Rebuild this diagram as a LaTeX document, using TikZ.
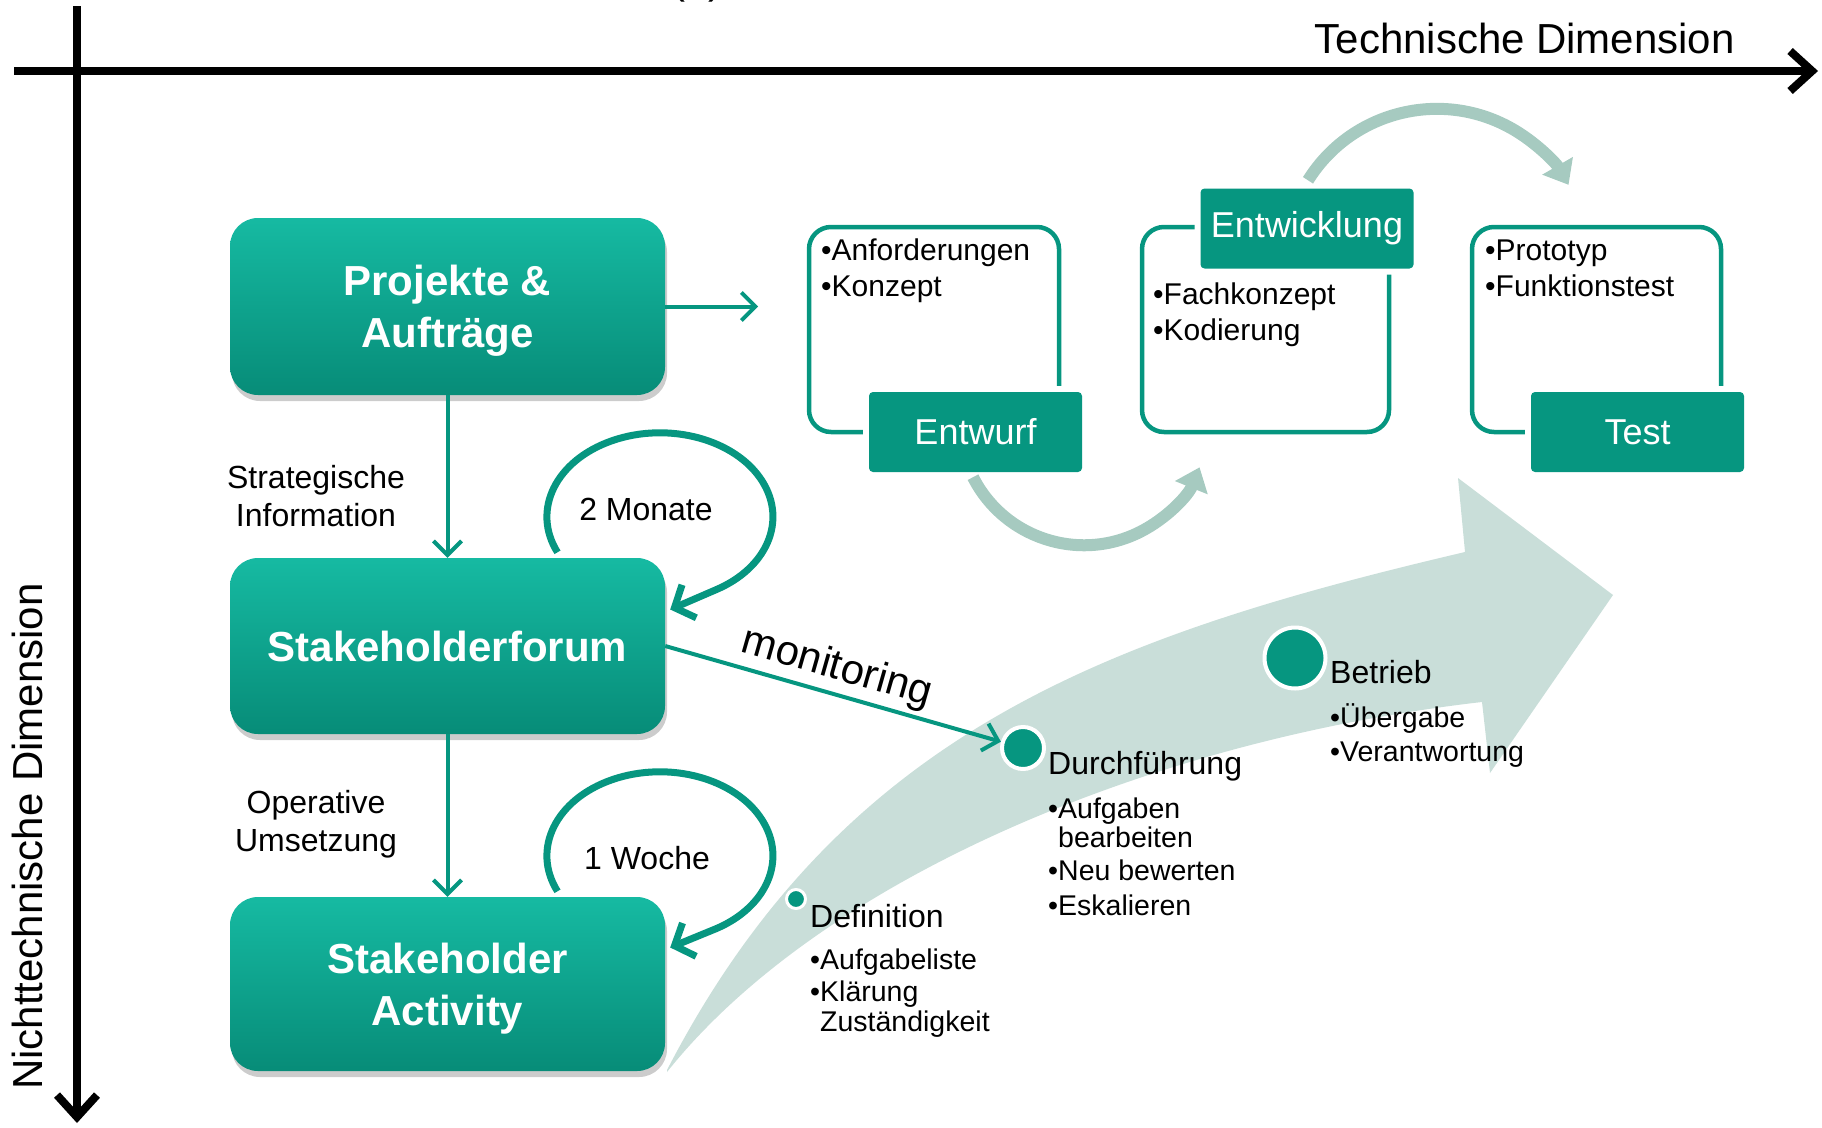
\documentclass[tikz,border=0pt]{standalone}
\usepackage{fontspec}
\setmainfont{Liberation Sans}
\usetikzlibrary{arrows.meta,shadows,calc}
\definecolor{teal1}{RGB}{6,150,128}
\definecolor{boxtop}{RGB}{22,186,162}
\definecolor{boxbot}{RGB}{7,140,120}
\definecolor{pale}{RGB}{201,222,217}
\definecolor{arcc}{RGB}{166,202,192}
\newcommand\boxline[1]{\smash{\raisebox{-15pt}{#1}}}
\begin{document}
\begin{tikzpicture}[x=1pt,y=1pt,
  mainbox/.style={rounded corners=28pt, top color=boxtop, bottom color=boxbot, draw=none,
    minimum width=435pt, text=white, font=\fontsize{42}{52}\selectfont\bfseries, align=center,
    drop shadow={shadow xshift=2pt, shadow yshift=-6pt, opacity=0.4}},
  phasebox/.style={preaction={draw=white,line width=12pt}, fill=teal1, rounded corners=4pt,
    minimum width=213pt, minimum height=80pt, inner sep=0pt, text=white, font=\fontsize{36}{40}\selectfont},
  outlinebox/.style={draw=teal1, line width=4.5pt, rounded corners=22pt, minimum height=205pt, inner sep=0pt},
  tealarrow/.style={draw=teal1, line width=4pt, -{Straight Barb[length=14pt,width=28pt]}},
  cycarrow/.style={draw=teal1, line width=7pt, -{Straight Barb[length=16pt,width=36pt]}},
  palearc/.style={draw=arcc, line width=12pt, -{Triangle[length=22pt,width=34pt]}},
  axisline/.style={draw=black, line width=8pt, -{Straight Barb[length=22pt,width=40pt]}},
  axislabel/.style={font=\fontsize{42}{42}\selectfont, inner sep=0pt},
  lbl/.style={font=\fontsize{32}{38}\selectfont, align=center},
  fitm/.style={font=\fontsize{30}{34}\selectfont, anchor=base west, inner sep=0pt},
  itm/.style={font=\fontsize{28.5}{34}\selectfont, anchor=base west, inner sep=0pt},
  headl/.style={font=\fontsize{32}{38}\selectfont, anchor=base west, inner sep=0pt},
  dot/.style={circle, fill=teal1, draw=white, inner sep=0pt}]
\useasboundingbox (0,0) rectangle (1822,-1127);

% cut-off title
\node[font=\fontsize{42}{42}\selectfont, anchor=base, inner sep=0pt] (cut) at (697,6) {(a)};

% big pale arrow
\fill[pale] (667,-1070) .. controls (842,-732) and (1107,-636) .. (1465,-552)
  -- (1458,-478) -- (1613,-595) -- (1490,-773) -- (1482,-702)
  .. controls (1150,-740) and (820,-880) .. (667,-1072) -- cycle;

% axes
\coordinate (xs) at (14,-71);
\coordinate (xe) at (1818,-71);
\coordinate (ys) at (77,-6);
\coordinate (ye) at (77,-1123);
\draw[axisline] (xs) -- (xe);
\draw[axisline] (ys) -- (ye);
\node[axislabel, anchor=base east] (tdim) at (1735,-53) {Technische Dimension};
\node[axislabel, anchor=base west, rotate=90] (ndim) at (42,-1090) {Nichttechnische Dimension};

% main boxes
\node[mainbox, minimum height=177pt] (pa) at (447.5,-306.5) {\boxline{Projekte \&}\\\boxline{Aufträge}};
\node[mainbox, minimum height=176pt] (sf) at (447.5,-646) {Stakeholderforum};
\node[mainbox, minimum height=174pt] (sa) at (447.5,-984) {\boxline{Stakeholder}\\\boxline{Activity}};

\draw[tealarrow] (pa) -- (sf);
\draw[tealarrow] (sf) -- (sa);
\coordinate (paout) at ($(pa.east)+(93,0)$);
\draw[tealarrow] (pa.east) -- (paout);

\node[lbl] (si) at (316,-496) {Strategische\\Information};
\node[lbl] (ou) at (316,-824.5) {Operative\\Umsetzung};

% cycles
\draw[cycarrow] ($(sf.north)+(110,5.5)$) arc[start angle=205, end angle=-60, x radius=113, y radius=84] -- ($(sf.east)+(5,36.5)$);
\node[lbl] (mon2) at (646,-509) {2 Monate};
\draw[cycarrow] ($(sa.north)+(110,5.5)$) arc[start angle=205, end angle=-60, x radius=113, y radius=84] -- ($(sa.east)+(5,36.5)$);
\node[lbl] (woche) at (647,-858) {1 Woche};

% technical phases
\node[outlinebox, minimum width=250pt] (fa) at (934,-329.5) {};
\node[outlinebox, minimum width=247pt] (fb) at (1265.5,-329.5) {};
\node[outlinebox, minimum width=249pt] (fc) at (1596.5,-329.5) {};
\node[phasebox] (entwurf) at (975.5,-432) {Entwurf};
\node[phasebox] (entw) at (1307,-228.5) {Entwicklung};
\node[phasebox] (test) at (1637.5,-432) {Test};

\node[fitm] (a1) at (821,-260) {•Anforderungen};
\node[fitm] (a2) at (821,-296) {•Konzept};
\node[fitm] (b1) at (1153,-304) {•Fachkonzept};
\node[fitm] (b2) at (1153,-340) {•Kodierung};
\node[fitm] (c1) at (1485,-260) {•Prototyp};
\node[fitm] (c2) at (1485,-296) {•Funktionstest};

\draw[palearc] ($(entwurf.south)+(-2.5,-5)$) arc[start angle=207, end angle=338, radius=124.6];
\draw[palearc] ($(entw.north)+(1,8)$) arc[start angle=148, end angle=30, radius=152];

% dots on the big arrow
\node[dot, minimum size=19pt, line width=3pt] (d1) at (796,-899) {};
\node[dot, minimum size=42pt, line width=4pt] (d2) at (1023,-748) {};
\node[dot, minimum size=61pt, line width=4pt] (d3) at (1295,-658) {};

\draw[tealarrow] (sf.east) -- (d2) node[pos=0.49, sloped, above, font=\fontsize{42}{42}\selectfont, inner sep=4pt] (monlbl) {monitoring};

\node[headl] (h1) at (810,-927) {Definition};
\node[itm] (h1a) at (810,-969) {•Aufgabeliste};
\node[itm] (h1b) at (810,-1001) {•Klärung};
\node[itm] (h1c) at (810,-1031) {\phantom{•}Zuständigkeit};

\node[headl] (h2) at (1048,-774) {Durchführung};
\node[itm] (h2a) at (1048,-818) {•Aufgaben};
\node[itm] (h2b) at (1048,-847) {\phantom{•}bearbeiten};
\node[itm] (h2c) at (1048,-880) {•Neu bewerten};
\node[itm] (h2d) at (1048,-915) {•Eskalieren};

\node[headl] (h3) at (1330,-683) {Betrieb};
\node[itm] (h3a) at (1330,-727) {•Übergabe};
\node[itm] (h3b) at (1330,-761) {•Verantwortung};
\end{tikzpicture}
\end{document}
